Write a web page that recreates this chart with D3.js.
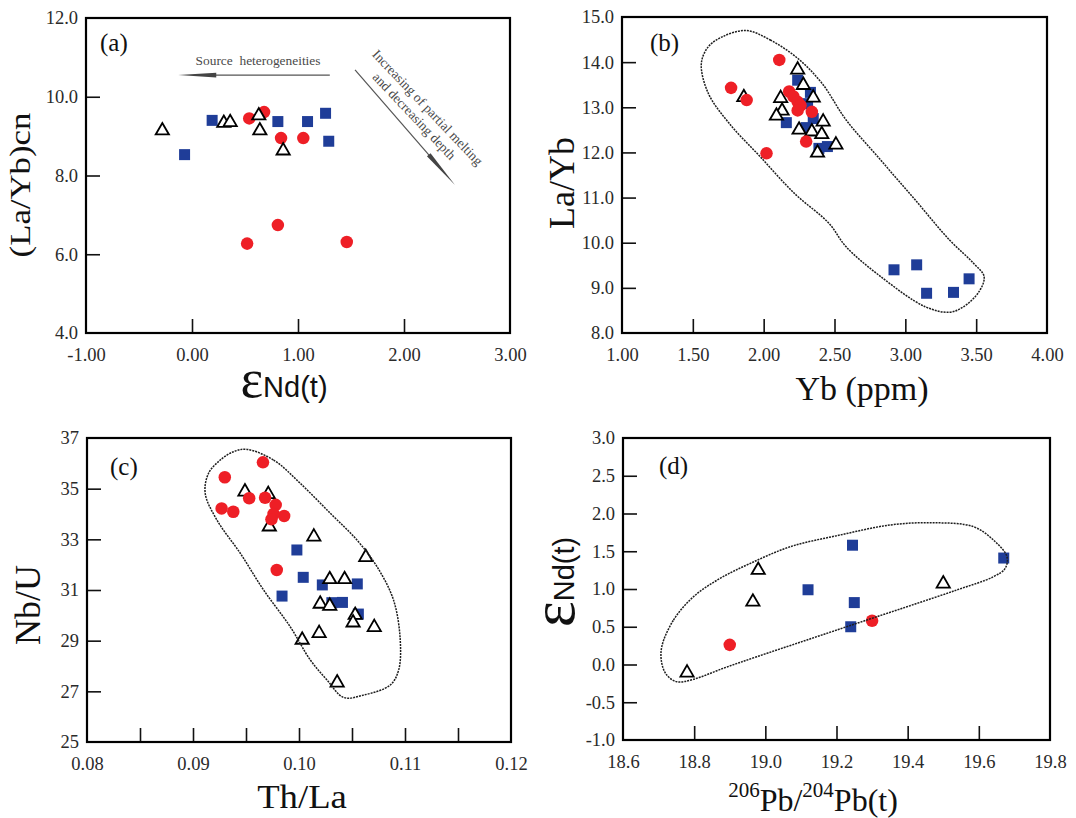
<!DOCTYPE html>
<html>
<head>
<meta charset="utf-8">
<script src="https://cdn.jsdelivr.net/npm/d3@7"></script>
<style>
  body { margin: 0; background: #fff; }
  svg { display: block; }
</style>
</head>
<body>
<svg id="fig" width="1076" height="818"></svg>
<script>
// ---------------- data ----------------
// (a) εNd(t) vs (La/Yb)cn
const aSquares   = [[-0.07, 8.53], [0.19, 9.40], [0.81, 9.37], [1.09, 9.37], [1.26, 9.58], [1.29, 8.87]];
const aCircles   = [[0.54, 9.45], [0.68, 9.61], [0.84, 8.95], [1.05, 8.95], [0.81, 6.74], [0.52, 6.27], [1.46, 6.31]];
const aTriangles = [[-0.28, 9.14], [0.30, 9.33], [0.36, 9.35], [0.63, 9.52], [0.64, 9.14], [0.86, 8.63]];
const aXTicks = [-1, 0, 1, 2, 3];
const aYTicks = [4, 6, 8, 10, 12];

// (b) Yb (ppm) vs La/Yb
const bSquares   = [[2.24, 13.60], [2.33, 13.33], [2.31, 13.08], [2.16, 12.66], [2.35, 12.75], [2.30, 12.55],
                    [2.39, 12.09], [2.45, 12.13], [2.92, 9.40], [3.08, 9.51], [3.15, 8.88], [3.34, 8.90], [3.45, 9.20]];
const bTriangles = [[1.86, 13.22], [2.24, 13.83], [2.28, 13.49], [2.35, 13.21], [2.12, 13.20], [2.13, 12.92],
                    [2.09, 12.81], [2.25, 12.50], [2.34, 12.46], [2.42, 12.68], [2.41, 12.40], [2.38, 11.99], [2.51, 12.17]];
const bCircles   = [[1.77, 13.43], [1.88, 13.16], [2.11, 14.05], [2.02, 11.98], [2.18, 13.35], [2.21, 13.24],
                    [2.24, 13.12], [2.26, 13.04], [2.24, 12.93], [2.34, 12.90], [2.30, 12.24]];
const bEnvelope  = [[1.876, 14.70], [2.047, 14.49], [2.242, 14.08], [2.412, 13.53], [2.582, 12.72], [2.826, 11.83],
                    [3.069, 10.95], [3.312, 10.06], [3.483, 9.54], [3.556, 9.25], [3.519, 8.91], [3.410, 8.58],
                    [3.312, 8.46], [3.142, 8.58], [2.826, 9.25], [2.582, 9.91], [2.461, 10.43], [2.218, 11.09],
                    [1.974, 11.91], [1.755, 12.65], [1.609, 13.31], [1.560, 13.97], [1.609, 14.34], [1.707, 14.56]];
const bXTicks = [1.0, 1.5, 2.0, 2.5, 3.0, 3.5, 4.0];
const bYTicks = [8, 9, 10, 11, 12, 13, 14, 15];

// (c) Th/La vs Nb/U
const cSquares   = [[0.0998, 32.58], [0.1004, 31.50], [0.0984, 30.76], [0.1022, 31.20], [0.1055, 31.24],
                    [0.1031, 30.50], [0.1041, 30.51], [0.1056, 30.05]];
const cTriangles = [[0.0949, 34.88], [0.0971, 34.78], [0.0972, 33.50], [0.1014, 33.10], [0.1063, 32.29],
                    [0.1029, 31.42], [0.1043, 31.42], [0.1020, 30.45], [0.1029, 30.37], [0.1053, 30.01],
                    [0.1051, 29.71], [0.1071, 29.53], [0.1019, 29.29], [0.1003, 29.03], [0.1036, 27.34]];
const cCircles   = [[0.0966, 36.04], [0.0930, 35.45], [0.0927, 34.22], [0.0938, 34.09], [0.0953, 34.62],
                    [0.0968, 34.64], [0.0978, 34.36], [0.0986, 33.92], [0.0976, 34.00], [0.0974, 33.79], [0.0979, 31.79]];
const cEnvelope  = [[0.09509, 36.55], [0.09760, 36.13], [0.10012, 35.21], [0.10295, 34.03], [0.10547, 32.97],
                    [0.10736, 31.92], [0.10892, 30.60], [0.10955, 29.03], [0.10940, 27.84], [0.10861, 27.25],
                    [0.10609, 26.85], [0.10420, 26.76], [0.10264, 27.45], [0.10106, 28.24], [0.09917, 29.55],
                    [0.09666, 31.00], [0.09446, 32.45], [0.09226, 33.76], [0.09115, 34.82], [0.09147, 35.61],
                    [0.09257, 36.13], [0.09383, 36.46]];
const cXTicks  = [0.08, 0.085, 0.09, 0.095, 0.10, 0.105, 0.11, 0.115, 0.12];
const cXLabels = [0.08, 0.09, 0.10, 0.11, 0.12];
const cYTicks  = [25, 27, 29, 31, 33, 35, 37];

// (d) 206Pb/204Pb(t) vs εNd(t)
const dSquares   = [[19.245, 1.58], [19.12, 0.99], [19.25, 0.82], [19.24, 0.50], [19.67, 1.41]];
const dTriangles = [[18.98, 1.25], [18.965, 0.83], [18.78, -0.11], [19.50, 1.07]];
const dCircles   = [[18.90, 0.26], [19.30, 0.58]];
const dEnvelope  = [[18.709, 0.236], [18.742, 0.589], [18.798, 0.898], [18.873, 1.141], [18.958, 1.340],
                    [19.070, 1.560], [19.210, 1.715], [19.351, 1.848], [19.473, 1.878], [19.585, 1.825],
                    [19.641, 1.649], [19.679, 1.428], [19.674, 1.274], [19.641, 1.163], [19.538, 0.987],
                    [19.398, 0.765], [19.257, 0.545], [19.117, 0.325], [18.976, 0.103], [18.882, -0.050],
                    [18.798, -0.196], [18.751, -0.228], [18.723, -0.139], [18.709, 0.016]];
const dXTicks = [18.6, 18.8, 19.0, 19.2, 19.4, 19.6, 19.8];
const dYTicks = [-1.0, -0.5, 0.0, 0.5, 1.0, 1.5, 2.0, 2.5, 3.0];

// ---------------- drawing ----------------
const BLUE = "#1f3d98";
const RED = "#ee1f26";
const SERIF = "'Liberation Serif','Times New Roman',serif";
const SANS = "'Liberation Sans',Arial,sans-serif";

const svg = d3.select("#fig");
svg.append("rect").attr("width", 1076).attr("height", 818).attr("fill", "#fff");

const squareSym = d3.symbol().type(d3.symbolSquare).size(121);
const circleSym = d3.symbol().type(d3.symbolCircle).size(123);
const triSym = d3.symbol().type(d3.symbolTriangle).size(76);

function drawPanel(cfg) {
  const g = svg.append("g");
  const x = d3.scaleLinear().domain(cfg.xDomain).range([cfg.left, cfg.right]);
  const y = d3.scaleLinear().domain(cfg.yDomain).range([cfg.bottom, cfg.top]);
  const xLab = new Set(cfg.xLabels || cfg.xTicks);

  // bottom axis, ticks pointing into the frame
  g.append("g")
    .attr("transform", `translate(0,${cfg.bottom})`)
    .call(d3.axisBottom(x).tickValues(cfg.xTicks)
      .tickFormat(v => xLab.has(v) ? v.toFixed(cfg.xDigits) : "")
      .tickSizeInner(-14).tickSizeOuter(0).tickPadding(15))
    .call(a => a.select(".domain").remove())
    .call(a => a.selectAll(".tick line").filter(d => d === cfg.xDomain[0] || d === cfg.xDomain[1]).remove())
    .call(a => a.selectAll(".tick line").attr("stroke", "#111").attr("stroke-width", 1.6))
    .call(a => a.selectAll(".tick text").attr("font-family", SERIF).attr("font-size", 18.5).attr("fill", "#2a2a2a"));

  // left axis
  g.append("g")
    .attr("transform", `translate(${cfg.left},0)`)
    .call(d3.axisLeft(y).tickValues(cfg.yTicks)
      .tickFormat(v => v.toFixed(cfg.yDigits))
      .tickSizeInner(-14).tickSizeOuter(0).tickPadding(8))
    .call(a => a.select(".domain").remove())
    .call(a => a.selectAll(".tick line").filter(d => d === cfg.yDomain[0] || d === cfg.yDomain[1]).remove())
    .call(a => a.selectAll(".tick line").attr("stroke", "#111").attr("stroke-width", 1.6))
    .call(a => a.selectAll(".tick text").attr("font-family", SERIF).attr("font-size", 18.5).attr("fill", "#2a2a2a"));

  // markers
  const put = d => `translate(${x(d[0])},${y(d[1])})`;
  const layer = (pts, sym, fill, stroke) => g.append("g").selectAll("path").data(pts).join("path")
    .attr("transform", put).attr("d", sym)
    .attr("fill", fill).attr("stroke", stroke).attr("stroke-width", stroke === "none" ? 0 : 1.8);
  cfg.order.forEach(k => {
    if (k === "sq") layer(cfg.squares, squareSym, BLUE, "none");
    if (k === "ci") layer(cfg.circles, circleSym, RED, "none");
    if (k === "tr") layer(cfg.triangles, triSym, "#fff", "#000");
  });

  // field outline
  if (cfg.envelope) {
    g.append("path")
      .datum(cfg.envelope)
      .attr("d", d3.line().x(d => x(d[0])).y(d => y(d[1])).curve(d3.curveCatmullRomClosed.alpha(0.5)))
      .attr("fill", "none").attr("stroke", "#1e1e1e").attr("stroke-width", 1.5)
      .attr("stroke-dasharray", "2,1");
  }

  // frame
  g.append("rect")
    .attr("x", cfg.left).attr("y", cfg.top)
    .attr("width", cfg.right - cfg.left).attr("height", cfg.bottom - cfg.top)
    .attr("fill", "none").attr("stroke", "#000").attr("stroke-width", 2.2);

  // panel letter
  g.append("text").attr("x", cfg.tag[1]).attr("y", cfg.tag[2])
    .attr("font-family", SERIF).attr("font-size", 25).attr("fill", "#111").text(cfg.tag[0]);

  return { g, x, y };
}

// (a)
const A = drawPanel({
  left: 86, right: 510, top: 18, bottom: 333,
  xDomain: [-1, 3], yDomain: [4, 12], xTicks: aXTicks, yTicks: aYTicks, xDigits: 2, yDigits: 1,
  squares: aSquares, circles: aCircles, triangles: aTriangles, order: ["sq", "ci", "tr"],
  tag: ["(a)", 100, 51]
});
// (b)
drawPanel({
  left: 622, right: 1047, top: 17, bottom: 333,
  xDomain: [1, 4], yDomain: [8, 15], xTicks: bXTicks, yTicks: bYTicks, xDigits: 2, yDigits: 1,
  squares: bSquares, circles: bCircles, triangles: bTriangles, order: ["sq", "tr", "ci"],
  envelope: bEnvelope, tag: ["(b)", 650, 51]
});
// (c)
drawPanel({
  left: 87, right: 511, top: 438, bottom: 742,
  xDomain: [0.08, 0.12], yDomain: [25, 37], xTicks: cXTicks, xLabels: cXLabels, yTicks: cYTicks,
  xDigits: 2, yDigits: 0,
  squares: cSquares, circles: cCircles, triangles: cTriangles, order: ["sq", "tr", "ci"],
  envelope: cEnvelope, tag: ["(c)", 110, 475]
});
// (d)
drawPanel({
  left: 623, right: 1050, top: 438, bottom: 740,
  xDomain: [18.6, 19.8], yDomain: [-1, 3], xTicks: dXTicks, yTicks: dYTicks, xDigits: 1, yDigits: 1,
  squares: dSquares, circles: dCircles, triangles: dTriangles, order: ["sq", "tr", "ci"],
  envelope: dEnvelope, tag: ["(d)", 659, 474]
});

// ---- annotations in (a) ----
const ann = A.g.append("g").attr("fill", "#4a4a4a");
function arrow(p0, p1, headLen, halfW) {
  const [x0, y0] = [A.x(p0[0]), A.y(p0[1])];
  const [x1, y1] = [A.x(p1[0]), A.y(p1[1])];
  const L = Math.hypot(x1 - x0, y1 - y0), ux = (x1 - x0) / L, uy = (y1 - y0) / L;
  ann.append("line").attr("x1", x0).attr("y1", y0).attr("x2", x1 - ux * headLen * 0.6).attr("y2", y1 - uy * headLen * 0.6)
    .attr("stroke", "#555").attr("stroke-width", 1.2);
  const bx = x1 - ux * headLen, by = y1 - uy * headLen;
  ann.append("path")
    .attr("d", `M${x1},${y1}L${bx - uy * halfW},${by + ux * halfW}L${bx + uy * halfW},${by - ux * halfW}Z`)
    .attr("fill", "#444");
}
arrow([1.30, 10.55], [-0.13, 10.55], 38, 2.4);
arrow([1.538, 10.68], [2.481, 7.76], 40, 2.4);

ann.append("text")
  .attr("x", A.x(0.623)).attr("y", A.y(10.81))
  .attr("text-anchor", "middle").attr("font-family", SERIF).attr("font-size", 13.4)
  .style("white-space", "pre").text("Source  heterogeneities");

[["Increasing of partial melting", 2.192, 9.645], ["and decreasing depth", 2.066, 9.43]].forEach(([t, vx, vy]) => {
  ann.append("text")
    .attr("transform", `translate(${A.x(vx)},${A.y(vy)}) rotate(46.5)`)
    .attr("text-anchor", "middle").attr("font-family", SERIF).attr("font-size", 13.5)
    .text(t);
});

// ---- axis titles ----
const titles = svg.append("g").attr("fill", "#111");

// (a)
titles.append("text")
  .attr("transform", "translate(30,185) rotate(-90) scale(1.2,1)")
  .attr("text-anchor", "middle").attr("font-family", SERIF).attr("font-size", 29)
  .text("(La/Yb)cn");
const ax = titles.append("text").attr("x", 284).attr("y", 397).attr("text-anchor", "middle");
ax.append("tspan").attr("font-family", SERIF).attr("font-size", 54).text("ε");
ax.append("tspan").attr("font-family", SANS).attr("font-size", 29).text("Nd(t)");

// (b)
titles.append("text")
  .attr("transform", "translate(574,183) rotate(-90)")
  .attr("text-anchor", "middle").attr("font-family", SERIF).attr("font-size", 36).text("La/Yb");
titles.append("text").attr("x", 862).attr("y", 400).attr("text-anchor", "middle")
  .attr("font-family", SERIF).attr("font-size", 34).text("Yb (ppm)");

// (c)
titles.append("text")
  .attr("transform", "translate(40,605) rotate(-90)")
  .attr("text-anchor", "middle").attr("font-family", SERIF).attr("font-size", 36).text("Nb/U");
titles.append("text")
  .attr("transform", "translate(302,808) scale(1.08,1)")
  .attr("text-anchor", "middle").attr("font-family", SERIF).attr("font-size", 34).text("Th/La");

// (d)
const dy = titles.append("text")
  .attr("transform", "translate(574,582) rotate(-90)").attr("text-anchor", "middle");
dy.append("tspan").attr("font-family", SERIF).attr("font-size", 62).text("ε");
dy.append("tspan").attr("font-family", SANS).attr("font-size", 29).text("Nd(t)");

const dx = titles.append("text").attr("x", 813).attr("y", 811).attr("text-anchor", "middle")
  .attr("font-family", SERIF);
dx.append("tspan").attr("font-size", 21).attr("dy", -14).text("206");
dx.append("tspan").attr("font-size", 32).attr("dy", 14).text("Pb/");
dx.append("tspan").attr("font-size", 21).attr("dy", -14).text("204");
dx.append("tspan").attr("font-size", 32).attr("dy", 14).text("Pb(t)");
</script>
</body>
</html>
